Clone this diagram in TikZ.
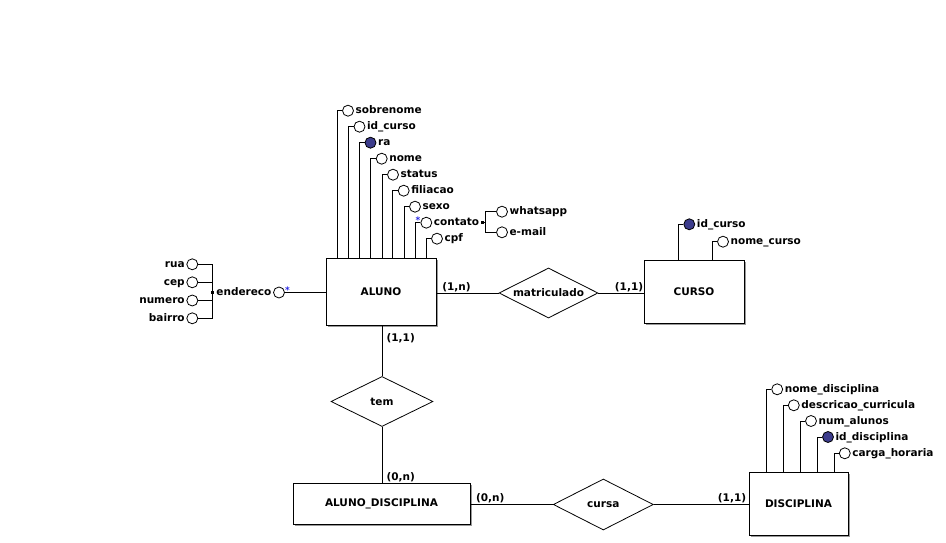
\documentclass[tikz,border=0pt]{standalone}
\usepackage{fontspec}
\setmainfont{DejaVu Sans}
\usetikzlibrary{shapes.geometric,shadows}
\definecolor{keyfill}{RGB}{60,60,140}
\definecolor{starblue}{RGB}{40,40,230}
\begin{document}
\begin{tikzpicture}[x=1pt,y=-1pt,
  every node/.style={font=\fontsize{10.5}{12}\selectfont\bfseries},
  line/.style={draw=black,line width=0.9pt},
  entity/.style={draw,line width=1pt,fill=white,inner sep=0pt,
    drop shadow={shadow xshift=2.2pt,shadow yshift=-2.2pt,fill=black!40,opacity=1}},
  rel/.style={draw,line width=0.8pt,fill=white,diamond,aspect=2,inner sep=0pt},
  attr/.style={draw,circle,line width=0.8pt,fill=white,minimum size=11pt,inner sep=0pt},
  keyattr/.style={attr,fill=keyfill},
  lblr/.style={anchor=west,inner sep=1.5pt,text height=7.5pt,text depth=1pt},
  lbll/.style={anchor=east,inner sep=1.5pt,text height=7.5pt,text depth=1pt},
  sq/.style={fill=black,minimum size=3pt,inner sep=0pt},
  star/.style={text=starblue,font=\fontsize{9}{9}\selectfont\bfseries,inner sep=0pt},
  card/.style={inner sep=0pt}
]
\useasboundingbox[fill=white] (0,0) rectangle (946,543);

% entities
\node[entity,minimum width=110pt,minimum height=67pt] (aluno) at (381,291.5) {ALUNO};
\node[entity,minimum width=100pt,minimum height=63pt] (curso) at (694,291.5) {CURSO};
\node[entity,minimum width=177pt,minimum height=41pt] (ad) at (381.5,503.5) {ALUNO\_DISCIPLINA};
\node[entity,minimum width=99pt,minimum height=63pt] (disc) at (798.5,503.5) {DISCIPLINA};

% relationships
\node[rel,minimum width=99pt,minimum height=50pt] (mat) at (548.5,293) {matriculado};
\node[rel,minimum width=102pt,minimum height=50pt] (tem) at (382,401.5) {tem};
\node[rel,minimum width=100pt,minimum height=51pt] (cursa) at (603.3,504.5) {cursa};

% relationship connectors
\draw[line] (aluno.east |- mat) -- (mat.west);
\draw[line] (mat.east) -- (curso.west |- mat);
\draw[line] (aluno.south -| tem) -- (tem.north);
\draw[line] (tem.south) -- (ad.north -| tem);
\draw[line] (ad.east |- cursa) -- (cursa.west);
\draw[line] (cursa.east) -- (disc.west |- cursa);

% cardinalities
\node[card] (k1) at (456.5,287) {(1,n)};
\node[card] (k2) at (629,287) {(1,1)};
\node[card] (k3) at (400.7,338.5) {(1,1)};
\node[card] (k4) at (400.7,477.5) {(0,n)};
\node[card] (k5) at (490.3,498.5) {(0,n)};
\node[card] (k6) at (732,498.5) {(1,1)};

% ALUNO attributes
\foreach \i/\lx/\cy/\txt/\st in {
  1/337/110.7/sobrenome/attr,
  2/348.5/126.7/id\_curso/attr,
  3/359.5/142.7/ra/keyattr,
  4/370.7/158.7/nome/attr,
  5/382/174.7/status/attr,
  6/392.7/190.7/filiacao/attr,
  7/404/206.7/sexo/attr,
  8/415.3/222.7/contato/attr,
  9/426/238.7/cpf/attr}{
  \coordinate (ab\i) at (\lx,258);
  \node[\st] (aa\i) at (\lx+11,\cy) {};
  \node[lblr] (al\i) at (aa\i.east) {\txt};
  \draw[line] (ab\i) |- (aa\i.west);
}
\node[star] (st2) at (418,220.5) {*};

% contato composite
\node[sq] (csq) at (482.7,222.7) {};
\coordinate (cj) at (485.7,222.7);
\node[attr] (wa) at (502,211.7) {};
\node[lblr] (wal) at (wa.east) {whatsapp};
\node[attr] (em) at (502,232.3) {};
\node[lblr] (eml) at (em.east) {e-mail};
\draw[line] (csq.center) -- (cj);
\draw[line] (wa.west) -| (cj) |- (em.west);

% endereco composite
\node[attr] (end) at (279,292.5) {};
\node[lbll] (endl) at (end.west) {endereco};
\node[star] (st1) at (287.5,290.5) {*};
\draw[line] (end.east) -- (aluno.west |- end);
\node[sq] (esq) at (212.5,292.5) {};
\foreach \n/\cy/\txt in {rua/264.3/rua, cep/282.3/cep, num/300.5/numero, bai/318.3/bairro}{
  \node[attr] (\n) at (192.3,\cy) {};
  \node[lbll] (\n l) at (\n.west) {\txt};
}
\draw[line] (rua.east) -| (esq.center);
\draw[line] (bai.east) -| (esq.center);
\draw[line] (cep.east) -- (cep.east -| esq.center);
\draw[line] (num.east) -- (num.east -| esq.center);

% CURSO attributes
\coordinate (cb1) at (678.3,260);
\coordinate (cb2) at (712.3,260);
\node[keyattr] (ca1) at (689.3,224.3) {};
\node[lblr] (cl1) at (ca1.east) {id\_curso};
\node[attr] (ca2) at (723,241.7) {};
\node[lblr] (cl2) at (ca2.east) {nome\_curso};
\draw[line] (cb1) |- (ca1.west);
\draw[line] (cb2) |- (ca2.west);

% DISCIPLINA attributes
\foreach \i/\lx/\cy/\txt/\st in {
  1/766.7/389.3/nome\_disciplina/attr,
  2/783.3/405.3/descricao\_curricula/attr,
  3/800.5/421/num\_alunos/attr,
  4/817.5/437/id\_disciplina/keyattr,
  5/834.3/453.3/carga\_horaria/attr}{
  \coordinate (db\i) at (\lx,472);
  \node[\st] (da\i) at (\lx+10.5,\cy) {};
  \node[lblr] (dl\i) at (da\i.east) {\txt};
  \draw[line] (db\i) |- (da\i.west);
}
\end{tikzpicture}
\end{document}
